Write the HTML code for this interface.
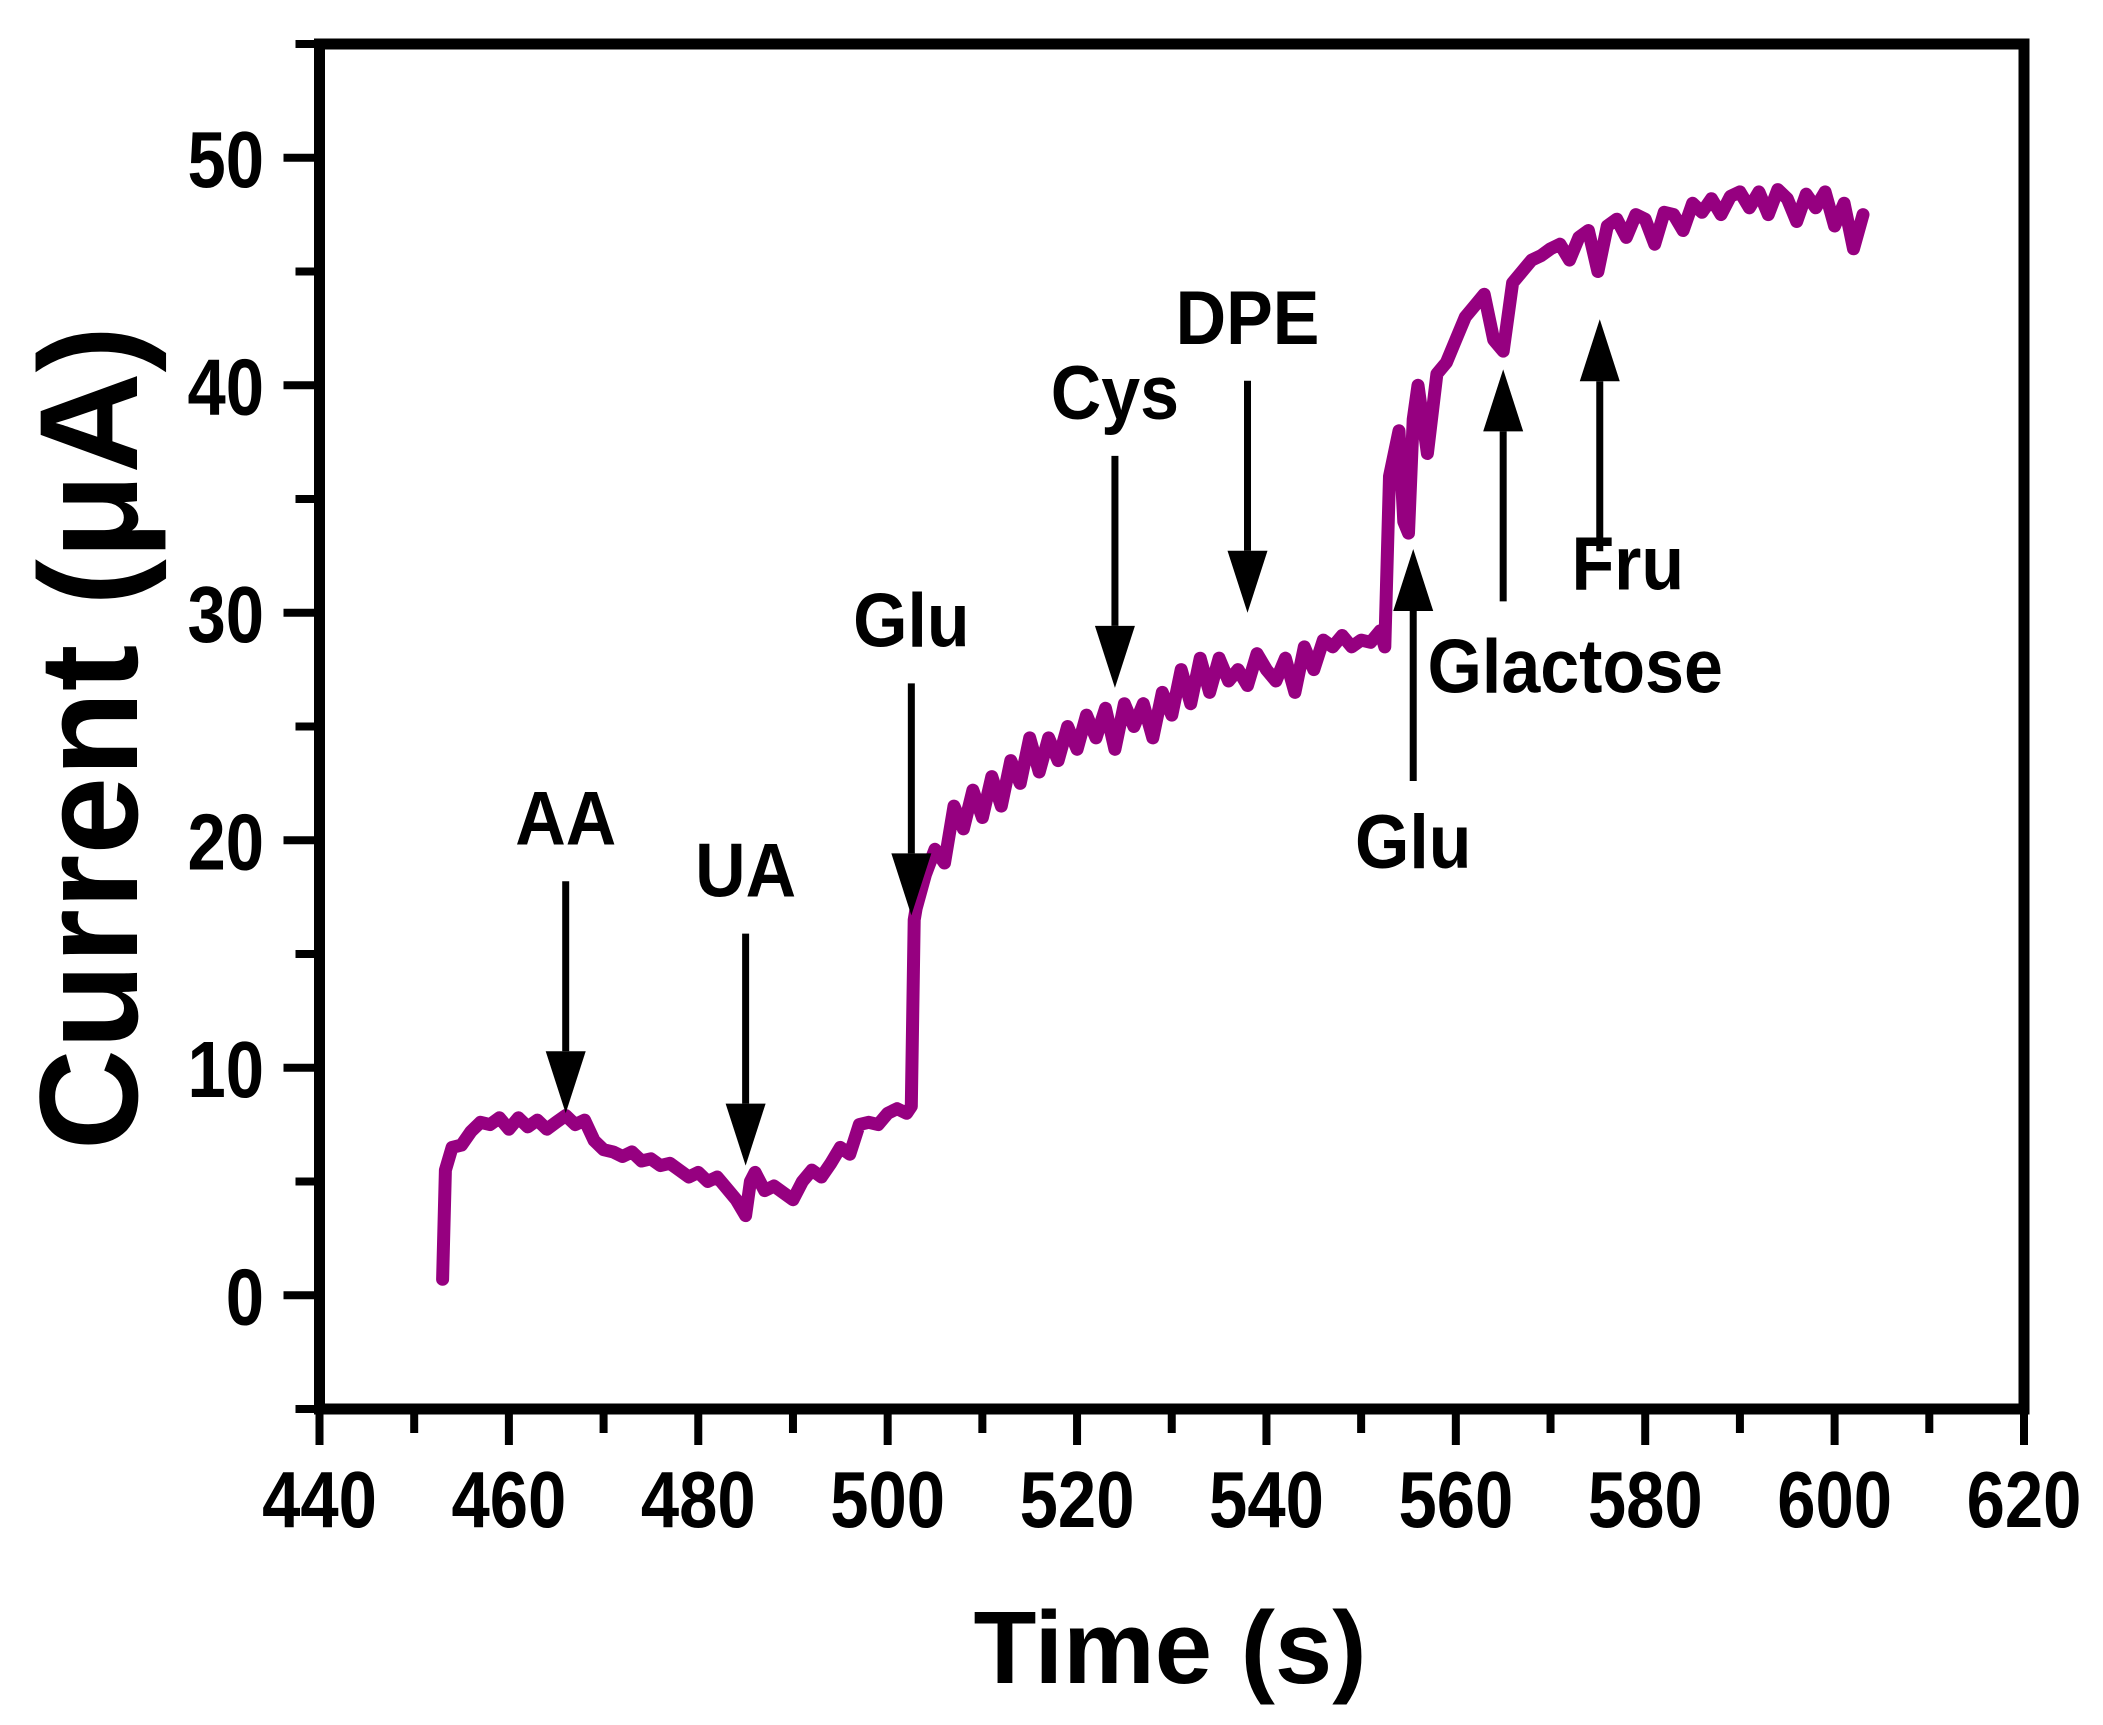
<!DOCTYPE html>
<html><head><meta charset="utf-8"><style>
html,body{margin:0;padding:0;background:#fff;}
svg{display:block;}
text{font-family:"Liberation Sans",Arial,sans-serif;font-weight:bold;fill:#000;}
</style></head><body>
<svg id="chart" width="2103" height="1725" viewBox="0 0 2103 1725" xmlns="http://www.w3.org/2000/svg">
<g id="axes"></g>
<g id="series"></g>
<g id="annots"></g>
<text x="1170" y="1683" font-size="103" text-anchor="middle">Time (s)</text>
<text transform="translate(137,738) rotate(-90)" font-size="140" text-anchor="middle">Current (μA)</text>
</svg>
<script>
const times = [453,453.3,454,455,456,457,458,459,460,461,462,463,464,465,466,467,468,469,470,471,472,473,474,475,476,477,478,479,480,481,482,483,484,485,485.5,486,487,488,489,490,491,492,493,494,495,496,497,498,499,500,501,502,502.5,502.8,503,504,505,506,507,508,509,510,511,512,513,514,515,516,517,518,519,520,521,522,523,524,525,526,527,528,529,530,531,532,533,534,535,536,537,538,539,540,541,542,543,544,545,546,547,548,549,550,551,552,552.5,553,554,554.5,555,555.5,556,557,558,559,560,561,562,563,564,565,566,567,568,569,570,571,572,573,574,575,576,577,578,579,580,581,582,583,584,585,586,587,588,589,590,591,592,593,594,595,596,597,598,599,600,601,602,603];
const currents = [0.7,5.5,6.5,6.6,7.2,7.6,7.5,7.8,7.3,7.8,7.4,7.7,7.3,7.6,7.9,7.5,7.7,6.8,6.4,6.3,6.1,6.3,5.9,6.0,5.7,5.8,5.5,5.2,5.4,5.0,5.2,4.7,4.2,3.5,5.0,5.4,4.6,4.8,4.5,4.2,5.0,5.5,5.2,5.8,6.5,6.2,7.5,7.6,7.5,8.0,8.2,8.0,8.3,16.5,17.0,18.5,19.6,19.0,21.5,20.5,22.2,21.0,22.8,21.5,23.5,22.5,24.5,23.0,24.5,23.5,25.0,24.0,25.5,24.5,25.8,24.0,26.0,25.0,26.0,24.5,26.5,25.5,27.5,26.0,28.0,26.5,28.0,27.0,27.5,26.8,28.2,27.5,27.0,28.0,26.5,28.5,27.5,28.8,28.5,29.0,28.5,28.8,28.7,29.2,28.5,36,38,34,33.5,38.5,40,37,40.5,41,42,43,43.5,44,42,41.5,44.5,45,45.5,45.7,46,46.2,45.5,46.5,46.8,45,47,47.3,46.5,47.5,47.3,46.2,47.6,47.5,46.8,48,47.6,48.2,47.5,48.3,48.5,47.8,48.5,47.5,48.6,48.2,47.2,48.4,47.8,48.5,47.0,48.0,46.0,47.5];
const xTickLabels = ["440","460","480","500","520","540","560","580","600","620"];
const yTickLabels = ["0","10","20","30","40","50"];
const annotLabels = ["AA","UA","Glu","Cys","DPE","Glu","Glactose","Fru"];
const annotTimes = [466,485,502.5,524,538,555.5,565,575.2];
const annotTips = [8.0,5.7,16.7,26.7,30.0,32.8,40.7,42.9];
const annotDirs = ["down","down","down","down","down","up","up","up"];

const NS="http://www.w3.org/2000/svg";
const X0=319.5,X1=2024,Y0=1409,Y1=44;
const xmin=440,xmax=620,ymin=-5,ymax=55;
function sx(v){return X0+(v-xmin)/(xmax-xmin)*(X1-X0);}
function sy(v){return Y0-(v-ymin)/(ymax-ymin)*(Y0-Y1);}
function mk(tag,attrs,parent){const e=document.createElementNS(NS,tag);for(const k in attrs)e.setAttribute(k,attrs[k]);parent.appendChild(e);return e;}
const axes=document.getElementById('axes');
const fr=mk('rect',{x:X0,y:Y1,width:X1-X0,height:Y0-Y1,fill:'none',stroke:'#000','stroke-width':11},axes);


for(let v=xmin;v<=xmax;v+=10){
  const major=(v%20===0);
  const t=mk('line',{x1:sx(v),x2:sx(v),y1:Y0,y2:Y0+(major?36:24),stroke:'#000','stroke-width':8},axes);
  
  
}
xTickLabels.forEach(s=>{
  const t=mk('text',{transform:`translate(${sx(+s)},1527) scale(0.86,1)`,'font-size':80,'text-anchor':'middle'},axes);
  t.textContent=s;
  
  
});
for(let v=ymin;v<=ymax;v+=5){
  const major=(v%10===0);
  const t=mk('line',{x1:X0,x2:X0-(major?36:24),y1:sy(v),y2:sy(v),stroke:'#000','stroke-width':8},axes);
  
  
}
yTickLabels.forEach(s=>{
  const t=mk('text',{transform:`translate(264,${sy(+s)+29}) scale(0.86,1)`,'font-size':80,'text-anchor':'end'},axes);
  t.textContent=s;
  
  
});
const pts=times.map((t,i)=>sx(t).toFixed(1)+','+sy(currents[i]).toFixed(1)).join(' ');
const pl=mk('polyline',{points:pts,fill:'none',stroke:'#960080','stroke-width':13,'stroke-linejoin':'round','stroke-linecap':'round'},document.getElementById('series'));


const an=document.getElementById('annots');
const L=232,HL=62,HW=20;
annotLabels.forEach((lab,i)=>{
  const x=sx(annotTimes[i]),tip=sy(annotTips[i]);
  const down=annotDirs[i]==='down';
  const tail=down?tip-L:tip+L;
  const base=down?tip-HL:tip+HL;
  const g=mk('g',{},an);
  
  
  mk('line',{x1:x,x2:x,y1:tail,y2:base,stroke:'#000','stroke-width':7},g);
  mk('polygon',{points:`${x},${tip} ${x-HW},${base} ${x+HW},${base}`,fill:'#000'},g);
  let tx=x,ty;
  if(down){ty=tail-37;}else{ty=tail+87;}
  if(lab==='Glactose'){tx=x+72;ty=tip+323;}
  if(lab==='Fru'){tx=x+28;ty=tip+270;}
  const t=mk('text',{transform:`translate(${tx},${ty}) scale(0.92,1)`,'font-size':76,'text-anchor':'middle'},g);
  t.textContent=lab;
  
  
});
</script>
</body></html>
